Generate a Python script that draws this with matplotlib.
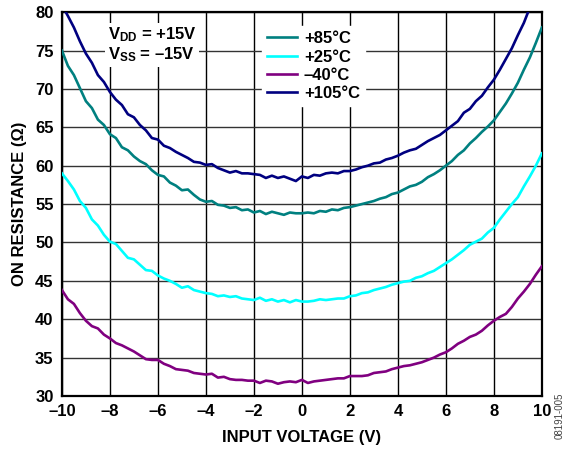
import numpy as np
import matplotlib
matplotlib.use('Agg')
import matplotlib.pyplot as plt

plt.rcParams['font.family'] = ['Liberation Sans', 'DejaVu Sans']
plt.rcParams['font.weight'] = 'bold'
plt.rcParams['mathtext.fontset'] = 'custom'
plt.rcParams['mathtext.bf'] = 'Liberation Sans:bold'
plt.rcParams['mathtext.rm'] = 'Liberation Sans:bold'
plt.rcParams['mathtext.default'] = 'bf'

# input voltage (V), 0.25 V steps
volts = np.arange(-10, 10.001, 0.25)

# on resistance (ohm)
r105 = [80.9, 79.5, 78.0, 76.2, 74.6, 73.4, 71.8, 70.9, 69.6, 68.6, 67.9, 66.7, 66.3, 65.3, 64.6, 63.6,
        63.4, 62.6, 62.3, 61.8, 61.4, 61.0, 60.5, 60.4, 60.1, 60.2, 59.7, 59.4, 59.1, 59.3, 59.0, 59.0,
        58.9, 58.8, 58.4, 58.7, 58.4, 58.6, 58.3, 58.0, 58.6, 58.4, 58.8, 58.7, 59.0, 59.1, 59.0, 59.3,
        59.3, 59.5, 59.8, 60.0, 60.3, 60.4, 60.8, 61.0, 61.3, 61.7, 62.0, 62.2, 62.7, 63.2, 63.6, 64.0,
        64.6, 65.2, 65.8, 66.9, 67.4, 68.4, 69.1, 70.2, 71.2, 72.5, 73.9, 75.3, 77.0, 78.6, 80.6,
        np.nan, np.nan]
r85 = [75.0, 73.0, 71.8, 70.1, 68.4, 67.5, 66.0, 65.3, 64.1, 63.6, 62.4, 62.0, 61.2, 60.6, 60.2, 59.4,
       58.8, 58.6, 57.8, 57.4, 56.8, 56.9, 56.2, 55.6, 55.3, 55.4, 54.9, 54.8, 54.5, 54.6, 54.2, 54.3,
       53.9, 54.1, 53.7, 54.0, 53.8, 53.6, 53.9, 53.8, 53.8, 53.9, 53.8, 54.1, 54.0, 54.3, 54.2, 54.5,
       54.6, 54.8, 55.0, 55.2, 55.4, 55.7, 55.9, 56.3, 56.5, 56.9, 57.3, 57.5, 57.9, 58.5, 58.9, 59.4,
       60.0, 60.6, 61.4, 62.0, 62.9, 63.6, 64.4, 65.1, 65.9, 67.0, 68.1, 69.4, 70.8, 72.5, 74.1, 76.0,
       78.0]
r25 = [59.0, 58.0, 56.9, 55.4, 54.5, 53.0, 52.2, 51.0, 50.1, 49.8, 48.9, 48.0, 47.8, 47.1, 46.4, 46.3,
       45.7, 45.3, 45.0, 44.6, 44.1, 44.3, 43.8, 43.6, 43.4, 43.3, 43.0, 43.1, 42.9, 43.0, 42.7, 42.6,
       42.5, 42.8, 42.4, 42.6, 42.3, 42.5, 42.2, 42.5, 42.3, 42.3, 42.4, 42.6, 42.5, 42.6, 42.7, 42.7,
       43.0, 43.1, 43.4, 43.5, 43.8, 44.0, 44.2, 44.5, 44.7, 44.9, 45.0, 45.4, 45.6, 46.0, 46.3, 46.8,
       47.3, 47.8, 48.4, 49.0, 49.7, 50.1, 50.5, 51.3, 51.9, 53.0, 54.0, 55.0, 55.9, 57.3, 58.6, 60.0,
       61.6]
rm40 = [43.8, 42.6, 42.0, 40.8, 39.8, 39.1, 38.8, 38.0, 37.5, 36.9, 36.6, 36.2, 35.8, 35.3, 34.8, 34.7,
        34.7, 34.2, 33.9, 33.5, 33.4, 33.3, 33.0, 32.9, 32.8, 32.9, 32.4, 32.5, 32.2, 32.1, 32.1, 32.0,
        32.0, 31.7, 32.0, 31.9, 31.6, 31.8, 31.9, 31.8, 32.1, 31.7, 31.9, 32.0, 32.1, 32.2, 32.3, 32.3,
        32.6, 32.6, 32.6, 32.7, 33.0, 33.1, 33.2, 33.5, 33.7, 33.9, 34.0, 34.2, 34.4, 34.7, 35.0, 35.4,
        35.7, 36.2, 36.8, 37.2, 37.7, 38.0, 38.5, 39.2, 39.8, 40.3, 40.7, 41.6, 42.7, 43.6, 44.6, 45.8,
        46.9]

xticks = [-10, -8, -6, -4, -2, 0, 2, 4, 6, 8, 10]
xticklabels = ['\u201310', '\u20138', '\u20136', '\u20134', '\u20132', '0', '2', '4', '6', '8', '10']
yticks = [30, 35, 40, 45, 50, 55, 60, 65, 70, 75, 80]

fig = plt.figure(figsize=(5.68, 4.49), dpi=100)
ax = fig.add_axes([0.109, 0.118, 0.845, 0.855])

ax.plot(volts, r85, color='#008080', linewidth=1.9, label='+85\u00b0C', zorder=3)
ax.plot(volts, r25, color='#00ffff', linewidth=1.9, label='+25\u00b0C', zorder=3)
ax.plot(volts, rm40, color='#800080', linewidth=1.9, label='\u201340\u00b0C', zorder=3)
ax.plot(volts, r105, color='#000080', linewidth=1.9, label='+105\u00b0C', zorder=3)

ax.set_xlim(-10, 10)
ax.set_ylim(30, 80)
ax.set_xticks(xticks)
ax.set_xticklabels(xticklabels)
ax.set_yticks(yticks)
ax.tick_params(length=0, labelsize=12, pad=6)
ax.grid(True, axis='x', color='black', linewidth=1.0)
ax.grid(True, axis='y', color='#333333', linewidth=1.0)
ax.set_axisbelow(True)
for s in ax.spines.values():
    s.set_linewidth(1.6)

ax.set_xlabel('INPUT VOLTAGE (V)', fontsize=12, fontweight='bold', labelpad=8)
ax.set_ylabel('ON RESISTANCE (\u03a9)', fontsize=12, fontweight='bold', labelpad=6)

leg = ax.legend(loc='upper left', bbox_to_anchor=(0.40, 0.985), fontsize=12, frameon=True,
                framealpha=1, edgecolor='white', facecolor='white', handlelength=1.8,
                handletextpad=0.4, labelspacing=0.2, borderpad=0.3, fancybox=False)
leg.set_zorder(5)

ax.text(0.095, 0.965, r'V$_{DD}$ = +15V' + '\n' + r'V$_{SS}$ = ' + '\u201315V', transform=ax.transAxes,
        fontsize=12, fontweight='bold', va='top', ha='left', linespacing=1.1, zorder=5,
        bbox=dict(facecolor='white', edgecolor='none', pad=2))

fig.text(0.985, 0.075, '08191-005', rotation=90, fontsize=7, color='#444444',
         fontweight='normal', ha='center', va='center')

fig.savefig('out.png', dpi=100)
